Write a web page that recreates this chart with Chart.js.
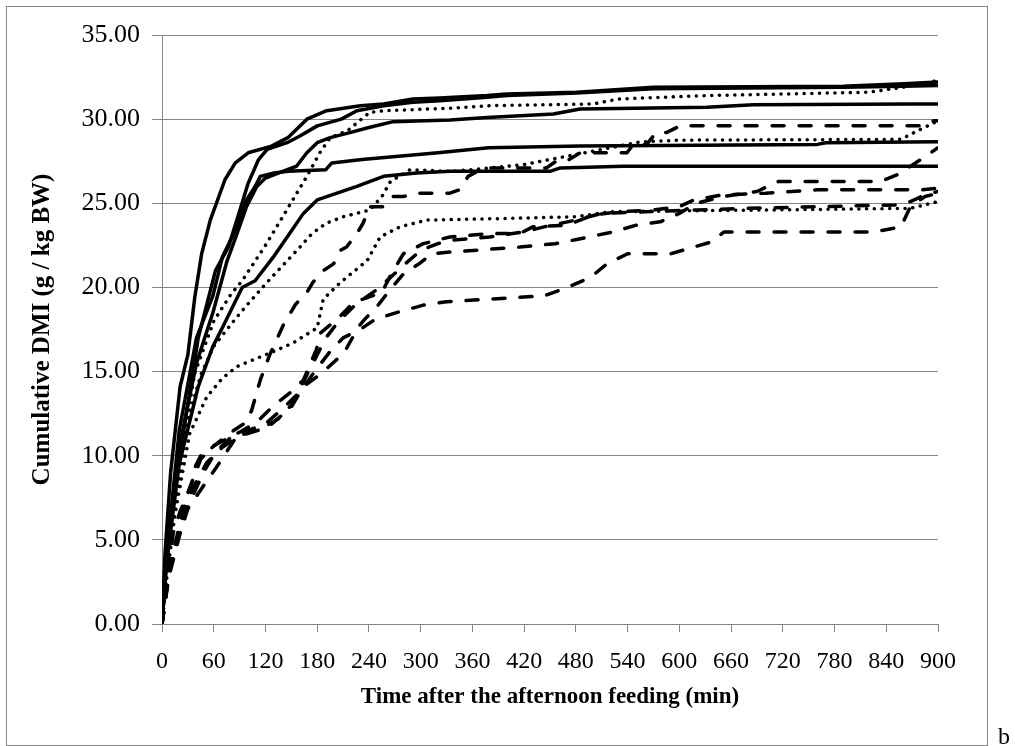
<!DOCTYPE html>
<html>
<head>
<meta charset="utf-8">
<script src="https://cdn.jsdelivr.net/npm/chart.js@4.4.0/dist/chart.umd.min.js"></script>
<style>
  body { margin: 0; background: #fff; }
  #wrap { position: relative; width: 1015px; height: 746px; overflow: hidden; }
  #frame { position: absolute; left: 6px; top: 6px; width: 982px; height: 740px; box-sizing: border-box; border: 1px solid #868686; }
  #chart { position: absolute; left: 0; top: 0; }
  #tag { position: absolute; left: 998px; top: 724px; font: 24px 'Liberation Serif', serif; line-height: 24px; }
</style>
</head>
<body>
<div id="wrap">
  <div id="frame"></div>
  <canvas id="chart" width="1015" height="746"></canvas>
  <span id="tag">b</span>
</div>
<script>
// [minutes after feeding, cumulative DMI g/kg BW]
const solidA = [[0,0],[3.5,4.2],[10,9],[21,14.1],[30,16],[38,19.4],[46,22.0],[56,24.0],[73,26.4],[85,27.4],[100,28.0],[127,28.4],[146,28.9],[168,30.0],[191,30.5],[230,30.8],[257,30.9],[291,31.2],[322,31.25],[377,31.4],[400,31.5],[481,31.6],[570,31.9],[790,31.95],[860,32.1],[900,32.2]];
const solidB = [[0,0],[5,3.5],[15,8],[27,12.1],[42,17],[62,21],[77,22.4],[88,24.2],[100,26.2],[112,27.6],[122,28.2],[145,28.6],[160,29.0],[180,29.6],[208,30.0],[226,30.5],[257,30.8],[291,31.0],[322,31.1],[377,31.3],[400,31.4],[481,31.55],[570,31.8],[790,31.9],[860,31.95],[900,32.0]];
const solidC = [[0,0],[5,3.8],[20,10.5],[40,15.5],[59,18.5],[75,21.5],[87,23.2],[98,24.8],[110,26.0],[120,26.5],[140,26.9],[156,27.2],[168,28.0],[180,28.6],[195,28.9],[218,29.2],[240,29.5],[268,29.85],[334,29.95],[377,30.1],[454,30.3],[485,30.6],[632,30.7],[686,30.85],[870,30.9],[900,30.9]];
const solidD = [[0,0],[5,4],[20,11.5],[40,17],[59,19.5],[70,21.8],[87,23.6],[98,25.2],[108,26.0],[114,26.6],[130,26.8],[146,26.9],[190,27.0],[197,27.4],[232,27.6],[320,28.0],[379,28.3],[485,28.4],[760,28.5],[770,28.6],[900,28.65]];
const solidE = [[0,0],[5,3.5],[20,9.5],[42,14.1],[59,16.5],[70,17.6],[93,20.0],[108,20.4],[114,20.8],[129,21.8],[148,23.2],[164,24.4],[180,25.2],[203,25.6],[226,26.0],[257,26.6],[295,26.8],[334,26.9],[450,26.9],[462,27.1],[535,27.2],[900,27.2]];

const dotA = [[0,0],[5,3],[20,9.5],[38,14.9],[60,18],[80,19.6],[93,20.4],[120,22.5],[140,24.2],[154,25.4],[168,26.6],[183,28.0],[195,28.9],[215,29.3],[230,29.95],[241,30.4],[257,30.5],[334,30.65],[381,30.8],[500,30.9],[530,31.2],[632,31.4],[820,31.6],[860,31.9],[900,32.3]];
const dotB = [[0,0],[5,2.8],[15,7],[30,12.1],[45,14.8],[60,16.5],[80,17.8],[96,18.8],[120,20.2],[140,21.3],[160,22.4],[174,23.2],[190,23.8],[210,24.2],[241,24.6],[255,25.4],[265,26.3],[288,27.0],[334,26.9],[360,27.0],[420,27.3],[450,27.6],[480,27.9],[520,28.3],[555,28.65],[600,28.75],[857,28.8],[880,29.4],[900,29.9]];
const dotC = [[0,0],[5,2.5],[15,6.5],[32,11.3],[52,13.5],[70,14.6],[87,15.3],[125,16.1],[152,16.7],[180,17.6],[187,19.3],[207,20.3],[238,21.6],[253,23.0],[276,23.6],[307,24.0],[400,24.1],[480,24.2],[520,24.5],[700,24.6],[868,24.7],[900,25.1]];

const dashA = [[0,0],[9,3.8],[13,5.4],[21,6.7],[28,7.5],[36,8.6],[39,9.4],[48,10.3],[56,10.4],[68,10.9],[83,11.5],[98,12],[104,12.7],[114,14.5],[125,16],[141,17.8],[155,19],[168,19.7],[175,20.3],[187,21.0],[199,21.4],[207,22.2],[214,22.4],[226,23.2],[233,23.8],[241,24.8],[257,24.8],[268,25.4],[280,25.4],[296,25.6],[334,25.6],[345,25.8],[355,26.6],[373,27.1],[446,27.1],[457,27.5],[469,27.5],[485,28.0],[539,28.0],[547,28.5],[562,28.5],[573,29.2],[585,29.2],[601,29.6],[880,29.6],[895,29.9],[900,29.9]];
const dashB = [[0,0],[8,2.8],[20,5.2],[32,7.2],[48,9.0],[62,10.2],[80,11.1],[100,11.5],[120,11.9],[140,12.8],[160,13.8],[180,15.2],[195,16.2],[210,17.0],[222,17.3],[235,18.1],[250,18.9],[262,19.7],[280,20.8],[298,21.4],[313,22.0],[334,22.1],[415,22.4],[456,22.6],[481,22.85],[523,23.3],[550,23.7],[578,23.9],[600,24.4],[620,25.0],[650,25.4],[690,25.7],[715,26.3],[834,26.3],[853,26.7],[880,27.6],[900,28.3]];
const dashC = [[0,0],[8,3.2],[20,5.8],[30,7.8],[45,9.8],[60,10.6],[75,11.0],[90,11.4],[110,12.0],[130,13.0],[150,13.8],[164,14.5],[179,16.3],[184,17.3],[205,18.2],[222,19.1],[255,19.7],[266,20.8],[280,22.0],[303,22.6],[334,23.0],[380,23.2],[415,23.2],[430,23.6],[470,23.7],[500,24.3],[530,24.5],[570,24.6],[600,24.8],[617,25.2],[650,25.5],[700,25.6],[760,25.8],[880,25.8],[900,25.9]];
const dashD = [[0,0],[8,3.0],[20,5.5],[35,8.0],[52,9.6],[70,10.5],[90,11.2],[115,11.6],[135,12.2],[150,13.0],[170,15.0],[190,17.0],[205,18.0],[225,19.0],[250,19.9],[265,20.6],[280,21.3],[300,22.2],[320,22.6],[334,22.8],[380,23.0],[420,23.3],[443,23.6],[480,24.0],[510,24.4],[560,24.5],[620,24.6],[680,24.7],[760,24.8],[850,24.9],[868,25.1],[885,25.5],[900,25.7]];
const dashE = [[0,0],[8,3],[20,5.4],[28,6.7],[48,8.2],[63,9.3],[86,11.1],[123,11.7],[150,12.9],[164,14.1],[185,14.9],[211,16.1],[224,17.3],[247,18.1],[272,18.5],[303,18.95],[330,19.15],[443,19.5],[468,19.95],[497,20.6],[516,21.4],[540,22.0],[590,22.0],[610,22.3],[637,22.7],[652,23.3],[826,23.3],[857,23.6],[868,24.8],[885,25.4],[900,25.6]];

const xTicks = [0, 60, 120, 180, 240, 300, 360, 420, 480, 540, 600, 660, 720, 780, 840, 900];
const yTicks = [0, 5, 10, 15, 20, 25, 30, 35];

const SERIF = "'Liberation Serif', 'Times New Roman', serif";
const GRID = '#868686';

const SOLID = [];
const DOTTED = [0.1, 7.6];
const DASHED = [12, 15];

function series(points, dash) {
    return {
        data: points.map(p => ({ x: p[0], y: p[1] })),
        borderColor: '#000',
        borderWidth: 3.5,
        borderDash: dash,
        borderCapStyle: 'round',
        borderJoinStyle: 'round',
        pointRadius: 0,
        tension: 0,
        fill: false
    };
}

const ctx = document.getElementById('chart').getContext('2d');
new Chart(ctx, {
    type: 'line',
    data: {
        datasets: [
            series(dashA, DASHED), series(dashB, DASHED), series(dashC, DASHED),
            series(dashD, DASHED), series(dashE, DASHED),
            series(dotA, DOTTED), series(dotB, DOTTED), series(dotC, DOTTED),
            series(solidA, SOLID), series(solidB, SOLID), series(solidC, SOLID),
            series(solidD, SOLID), series(solidE, SOLID)
        ]
    },
    options: {
        responsive: false,
        animation: false,
        devicePixelRatio: 1,
        layout: { padding: { top: 35, right: 77, left: 0, bottom: 0 } },
        plugins: { legend: { display: false }, tooltip: { enabled: false } },
        scales: {
            x: {
                type: 'linear',
                min: xTicks[0],
                max: xTicks[xTicks.length - 1],
                afterBuildTicks: s => { s.ticks = xTicks.map(v => ({ value: v })); },
                afterFit: s => { s.height = 122; },
                ticks: { font: { family: SERIF, size: 24 }, color: '#000', padding: 15, maxRotation: 0, autoSkip: false },
                grid: { drawOnChartArea: false, color: GRID, tickLength: 8 },
                border: { color: GRID },
                title: {
                    display: true,
                    text: 'Time after the afternoon feeding (min)',
                    color: '#000',
                    font: { family: SERIF, size: 23, weight: 'bold' },
                    padding: { top: 0, bottom: 35 }
                }
            },
            y: {
                min: yTicks[0],
                max: yTicks[yTicks.length - 1],
                afterBuildTicks: s => { s.ticks = yTicks.map(v => ({ value: v })); },
                afterFit: s => { s.width = 162; },
                ticks: { font: { family: SERIF, size: 26 }, color: '#000', padding: 12, callback: v => v.toFixed(2) },
                grid: { color: GRID, tickLength: 10 },
                border: { color: GRID },
                title: {
                    display: true,
                    text: 'Cumulative DMI (g / kg BW)',
                    color: '#000',
                    font: { family: SERIF, size: 25, weight: 'bold' },
                    padding: { top: 28, bottom: 0 }
                }
            }
        }
    }
});
</script>
</body>
</html>
